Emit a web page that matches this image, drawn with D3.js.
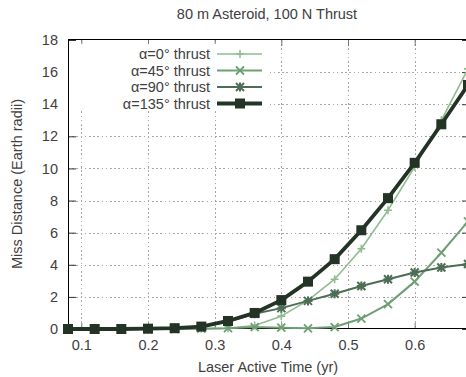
<!DOCTYPE html>
<html>
<head>
<meta charset="utf-8">
<script src="https://cdn.jsdelivr.net/npm/d3@7/dist/d3.min.js"></script>
<style>
  body { margin: 0; background: #fff; }
  svg { display: block; }
  text { font-family: "Liberation Sans", Arial, Helvetica, sans-serif; fill: #404040; }
</style>
</head>
<body>
<svg id="chart" width="466" height="377"></svg>
<script>
// Laser active time (yr) at which each miss distance was computed
const activeTime = [0.08, 0.12, 0.16, 0.20, 0.24, 0.28, 0.32, 0.36, 0.40, 0.44, 0.48, 0.52, 0.56, 0.60, 0.64, 0.68];

// Miss distance (Earth radii) for each thrust angle
const alpha0   = [0, 0, 0, 0, 0, 0.02, 0.05, 0.22, 0.80, 1.78, 3.10, 5.00, 7.40, 10.10, 13.00, 16.20];
const alpha45  = [0, 0, 0, 0, 0, 0.02, 0.05, 0.12, 0.08, 0.04, 0.12, 0.65, 1.55, 2.95, 4.75, 6.70];
const alpha90  = [0, 0, 0, 0.02, 0.05, 0.15, 0.45, 0.95, 1.30, 1.75, 2.20, 2.68, 3.10, 3.52, 3.83, 4.05];
const alpha135 = [0, 0, 0, 0.02, 0.05, 0.15, 0.50, 1.00, 1.80, 2.95, 4.35, 6.15, 8.15, 10.35, 12.75, 15.20];

const seriesNames = ["α=0° thrust", "α=45° thrust", "α=90° thrust", "α=135° thrust"];
const xTicks = [0.1, 0.2, 0.3, 0.4, 0.5, 0.6];
const yTicks = [0, 2, 4, 6, 8, 10, 12, 14, 16, 18];

const titleText = "80 m Asteroid, 100 N Thrust";
const xLabel = "Laser Active Time (yr)";
const yLabel = "Miss Distance (Earth radii)";

const seriesData = [alpha0, alpha45, alpha90, alpha135];
const styles = [
  { color: "#8fbc8f", width: 1.6, marker: "plus" },
  { color: "#6f9f74", width: 2.0, marker: "cross" },
  { color: "#4d6e55", width: 2.0, marker: "star" },
  { color: "#233326", width: 3.8, marker: "square" }
];

const fontSize = "14.5px";
const svg = d3.select("#chart");
const plotLeft = 68, plotRight = 468, plotTop = 40, plotBottom = 329;

const x = d3.scaleLinear().domain([0.08, 0.68]).range([plotLeft, plotRight]);
const y = d3.scaleLinear().domain([0, 18]).range([plotBottom, plotTop]);

// Dotted grid
const grid = svg.append("g").attr("stroke", "#a8a8a8").attr("stroke-width", 1)
  .attr("stroke-dasharray", "1.5,2.7").attr("shape-rendering", "crispEdges");
grid.selectAll("line.v").data(xTicks).join("line").attr("class", "v")
  .attr("x1", d => Math.round(x(d)) + 0.5).attr("x2", d => Math.round(x(d)) + 0.5)
  .attr("y1", plotTop).attr("y2", plotBottom);
grid.selectAll("line.h").data(yTicks.filter(d => d > 0 && d < 18)).join("line").attr("class", "h")
  .attr("x1", plotLeft).attr("x2", plotRight)
  .attr("y1", d => Math.round(y(d)) + 0.5).attr("y2", d => Math.round(y(d)) + 0.5);

// Axes with inward ticks on all four sides
const axisFont = g => g.selectAll("text").style("font-size", fontSize).attr("fill", "#404040");
svg.append("g").attr("transform", `translate(0,${plotBottom})`)
  .call(d3.axisBottom(x).tickValues(xTicks).tickFormat(d3.format(".1f")).tickSizeInner(-6).tickSizeOuter(0).tickPadding(11))
  .call(g => g.select(".domain").remove())
  .call(g => g.selectAll(".tick line").attr("stroke", "#777"))
  .call(axisFont);
svg.append("g").attr("transform", `translate(0,${plotTop})`)
  .call(d3.axisTop(x).tickValues(xTicks).tickFormat("").tickSizeInner(-6).tickSizeOuter(0))
  .call(g => g.select(".domain").remove())
  .call(g => g.selectAll(".tick line").attr("stroke", "#777"));
svg.append("g").attr("transform", `translate(${plotLeft},0)`)
  .call(d3.axisLeft(y).tickValues(yTicks).tickFormat(d3.format("d")).tickSizeInner(-8).tickSizeOuter(0).tickPadding(10))
  .call(g => g.select(".domain").remove())
  .call(g => g.selectAll(".tick line").attr("stroke", "#333"))
  .call(axisFont);
svg.append("g").attr("transform", `translate(${plotRight},0)`)
  .call(d3.axisRight(y).tickValues(yTicks).tickFormat("").tickSizeInner(-6).tickSizeOuter(0))
  .call(g => g.select(".domain").remove())
  .call(g => g.selectAll(".tick line").attr("stroke", "#333"));

// Frame
svg.append("rect").attr("x", plotLeft + 0.5).attr("y", plotTop - 0.5)
  .attr("width", plotRight - plotLeft).attr("height", plotBottom - plotTop)
  .attr("fill", "none").attr("stroke", "#000").attr("stroke-width", 1);

// Marker shapes
function drawMarker(g, kind, cx, cy, color) {
  if (kind === "plus") {
    g.append("path").attr("d", `M${cx - 4},${cy}H${cx + 4}M${cx},${cy - 4}V${cy + 4}`)
      .attr("stroke", color).attr("stroke-width", 1.6).attr("fill", "none");
  } else if (kind === "cross") {
    g.append("path").attr("d", `M${cx - 4},${cy - 4}L${cx + 4},${cy + 4}M${cx - 4},${cy + 4}L${cx + 4},${cy - 4}`)
      .attr("stroke", color).attr("stroke-width", 1.8).attr("fill", "none");
  } else if (kind === "star") {
    g.append("path").attr("d", `M${cx - 4},${cy - 4}L${cx + 4},${cy + 4}M${cx - 4},${cy + 4}L${cx + 4},${cy - 4}M${cx - 4.5},${cy}H${cx + 4.5}M${cx},${cy - 4.5}V${cy + 4.5}`)
      .attr("stroke", color).attr("stroke-width", 2).attr("fill", "none");
  } else {
    g.append("rect").attr("x", cx - 5).attr("y", cy - 5).attr("width", 10).attr("height", 10)
      .attr("fill", color);
  }
}

// Series lines and markers
const line = d3.line().x((d, i) => x(activeTime[i])).y(d => y(d));
seriesData.forEach((vals, s) => {
  const st = styles[s];
  const g = svg.append("g");
  g.append("path").datum(vals).attr("d", line)
    .attr("fill", "none").attr("stroke", st.color).attr("stroke-width", st.width)
    .attr("stroke-linejoin", "round");
  vals.forEach((v, i) => drawMarker(g, st.marker, x(activeTime[i]), y(v), st.color));
});

// Legend
const legend = svg.append("g");
legend.append("rect").attr("x", plotLeft + 1).attr("y", plotTop + 4).attr("width", 198).attr("height", 67).attr("fill", "#fff");
seriesNames.forEach((name, s) => {
  const st = styles[s];
  const ly = 54 + s * 16.5;
  legend.append("text").attr("x", 210).attr("y", ly).attr("dy", "0.35em")
    .attr("text-anchor", "end").style("font-size", fontSize).text(name);
  legend.append("line").attr("x1", 217).attr("x2", 262).attr("y1", ly).attr("y2", ly)
    .attr("stroke", st.color).attr("stroke-width", st.width);
  drawMarker(legend, st.marker, 240, ly, st.color);
});

// Titles
svg.append("text").attr("x", 267).attr("y", 19).attr("text-anchor", "middle")
  .style("font-size", fontSize).text(titleText);
svg.append("text").attr("x", 268).attr("y", 372).attr("text-anchor", "middle")
  .style("font-size", fontSize).text(xLabel);
svg.append("text").attr("transform", "translate(22,184) rotate(-90)").attr("text-anchor", "middle")
  .style("font-size", fontSize).text(yLabel);
</script>
</body>
</html>
